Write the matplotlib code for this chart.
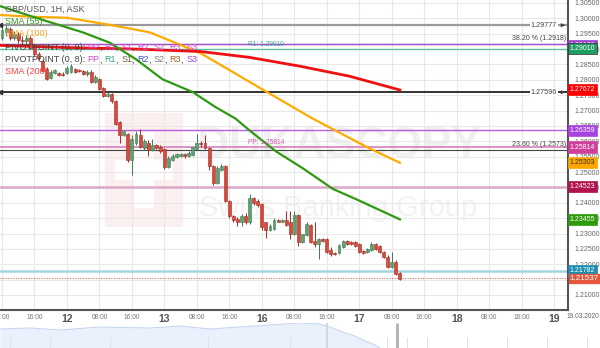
import matplotlib
matplotlib.use("Agg")
import matplotlib.pyplot as plt
import matplotlib.transforms as mtransforms
from matplotlib.patches import Rectangle

plt.rcParams['font.family'] = ['Liberation Sans', 'DejaVu Sans']

# GBP/USD 1H candles, x = hours since 11.03 00:00 (weekend removed)
hours = list(range(8, 107))
opens = [1.2937, 1.2957, 1.2966, 1.2937, 1.2950, 1.2931, 1.2925, 1.2937, 1.2908, 1.2883,
         1.2860, 1.2834, 1.2805, 1.2822, 1.2822, 1.2818, 1.2822, 1.2825, 1.2834, 1.2831,
         1.2828, 1.2818, 1.2825, 1.2793, 1.2802, 1.2773, 1.2748, 1.2754, 1.2731, 1.2664,
         1.2619, 1.2625, 1.2538, 1.2593, 1.2619, 1.2577, 1.2596, 1.2571, 1.2587, 1.2583,
         1.2574, 1.2516, 1.2538, 1.2548, 1.2551, 1.2558, 1.2551, 1.2554, 1.2574, 1.2596,
         1.2593, 1.2577, 1.2519, 1.2464, 1.2506, 1.2519, 1.2406, 1.2358, 1.2348, 1.2336,
         1.2358, 1.2339, 1.2416, 1.2406, 1.2397, 1.2336, 1.2310, 1.2316, 1.2345, 1.2339,
         1.2345, 1.2336, 1.2297, 1.2361, 1.2271, 1.2294, 1.2329, 1.2275, 1.2265, 1.2281,
         1.2281, 1.2246, 1.2236, 1.2236, 1.2255, 1.2275, 1.2271, 1.2271, 1.2265, 1.2242,
         1.2239, 1.2246, 1.2265, 1.2258, 1.2239, 1.2223, 1.2191, 1.2207, 1.2171]
highs = [1.2982, 1.2979, 1.2973, 1.2960, 1.2957, 1.2941, 1.2947, 1.2944, 1.2915, 1.2892,
         1.2867, 1.2841, 1.2831, 1.2834, 1.2825, 1.2825, 1.2844, 1.2851, 1.2838, 1.2834,
         1.2831, 1.2831, 1.2831, 1.2815, 1.2805, 1.2777, 1.2760, 1.2757, 1.2735, 1.2667,
         1.2638, 1.2628, 1.2622, 1.2632, 1.2641, 1.2606, 1.2603, 1.2609, 1.2590, 1.2587,
         1.2577, 1.2551, 1.2558, 1.2561, 1.2561, 1.2561, 1.2567, 1.2583, 1.2625, 1.2600,
         1.2619, 1.2580, 1.2522, 1.2519, 1.2526, 1.2522, 1.2410, 1.2361, 1.2355, 1.2365,
         1.2368, 1.2429, 1.2419, 1.2413, 1.2400, 1.2339, 1.2332, 1.2352, 1.2348, 1.2348,
         1.2374, 1.2374, 1.2374, 1.2365, 1.2300, 1.2336, 1.2332, 1.2336, 1.2284, 1.2284,
         1.2284, 1.2255, 1.2239, 1.2265, 1.2278, 1.2278, 1.2275, 1.2275, 1.2268, 1.2246,
         1.2252, 1.2271, 1.2268, 1.2262, 1.2242, 1.2229, 1.2239, 1.2213, 1.2175]
lows = [1.2931, 1.2944, 1.2928, 1.2931, 1.2921, 1.2915, 1.2918, 1.2899, 1.2876, 1.2863,
        1.2825, 1.2799, 1.2802, 1.2818, 1.2812, 1.2812, 1.2818, 1.2822, 1.2822, 1.2825,
        1.2815, 1.2812, 1.2789, 1.2789, 1.2767, 1.2744, 1.2744, 1.2725, 1.2654, 1.2593,
        1.2616, 1.2532, 1.2490, 1.2587, 1.2577, 1.2571, 1.2551, 1.2567, 1.2574, 1.2561,
        1.2509, 1.2513, 1.2535, 1.2545, 1.2548, 1.2545, 1.2548, 1.2551, 1.2571, 1.2583,
        1.2574, 1.2506, 1.2458, 1.2461, 1.2503, 1.2403, 1.2352, 1.2339, 1.2323, 1.2326,
        1.2332, 1.2332, 1.2394, 1.2387, 1.2313, 1.2284, 1.2307, 1.2313, 1.2336, 1.2336,
        1.2326, 1.2281, 1.2294, 1.2258, 1.2268, 1.2291, 1.2268, 1.2255, 1.2217, 1.2271,
        1.2236, 1.2226, 1.2229, 1.2233, 1.2252, 1.2262, 1.2262, 1.2255, 1.2236, 1.2233,
        1.2236, 1.2242, 1.2246, 1.2236, 1.2220, 1.2188, 1.2188, 1.2165, 1.2149]
closes = [1.2963, 1.2970, 1.2937, 1.2950, 1.2931, 1.2925, 1.2937, 1.2905, 1.2883, 1.2870,
          1.2828, 1.2802, 1.2825, 1.2831, 1.2815, 1.2815, 1.2838, 1.2844, 1.2825, 1.2828,
          1.2818, 1.2825, 1.2793, 1.2809, 1.2770, 1.2748, 1.2754, 1.2731, 1.2657, 1.2619,
          1.2632, 1.2538, 1.2609, 1.2625, 1.2583, 1.2600, 1.2571, 1.2587, 1.2577, 1.2567,
          1.2516, 1.2545, 1.2551, 1.2558, 1.2558, 1.2551, 1.2561, 1.2580, 1.2596, 1.2590,
          1.2577, 1.2519, 1.2464, 1.2513, 1.2519, 1.2406, 1.2358, 1.2345, 1.2336, 1.2358,
          1.2339, 1.2416, 1.2400, 1.2394, 1.2320, 1.2310, 1.2326, 1.2345, 1.2339, 1.2345,
          1.2329, 1.2297, 1.2361, 1.2271, 1.2297, 1.2332, 1.2271, 1.2265, 1.2281, 1.2275,
          1.2239, 1.2233, 1.2233, 1.2262, 1.2275, 1.2265, 1.2265, 1.2258, 1.2239, 1.2236,
          1.2249, 1.2265, 1.2249, 1.2239, 1.2223, 1.2191, 1.2207, 1.2168, 1.2152]

sma55_h = [7.5, 18, 28, 34.5, 41, 47.5, 55, 60.5, 65.5, 69, 75.5, 82, 89.5, 95.5, 106]
sma55_v = [1.3040, 1.2995, 1.2954, 1.2921, 1.2867, 1.2802, 1.2760, 1.2712, 1.2674,
           1.2635, 1.2567, 1.2513, 1.2445, 1.2410, 1.2346]
sma100_h = [7.5, 15.5, 24, 34.5, 41, 44.5, 57, 72, 84.5, 98.5, 106]
sma100_v = [1.3011, 1.3005, 1.3002, 1.2979, 1.2963, 1.2954, 1.2886, 1.2770, 1.2674, 1.2577, 1.2530]
sma200_h = [7.5, 24, 41, 57, 69, 81.5, 93.5, 106]
sma200_v = [1.2912, 1.2905, 1.2900, 1.2892, 1.2873, 1.2844, 1.2812, 1.2767]

# horizontal levels: value, colour, width, style
levels = [(1.29777, '#9a9a9a', 1.6, '-'), (1.29180, '#555555', 0.8, '-'),
          (1.29150, '#a050d0', 1.0, '-'), (1.29010, '#5cc4a4', 1.0, '-'),
          (1.27596, '#333333', 1.4, '-'), (1.26359, '#b45ee0', 1.0, '-'),
          (1.25814, '#d880b8', 1.2, '-'), (1.25730, '#444444', 0.8, '-'),
          (1.24523, '#dba8c8', 1.8, '-'), (1.21782, '#a2d5e0', 1.8, '-'),
          (1.21537, '#e8503a', 0.7, ':')]

# price tags on the right axis: value, text, fill, text colour
tags = [(1.29130, '1.29130', '#a040d0', 'white'), (1.29010, '1.29010', '#1e9e62', 'white'),
        (1.27672, '1.27672', '#ff0000', 'white'), (1.26359, '1.26359', '#a844dd', 'white'),
        (1.25814, '1.25814', '#d0409a', 'white'), (1.25303, '1.25303', '#ffa500', '#333333'),
        (1.24523, '1.24523', '#b0124e', 'white'), (1.23455, '1.23455', '#2f9a0c', 'white'),
        (1.21782, '1.21782', '#1c8fb0', 'white')]
last_price = 1.21537

x_ticks = list(range(8, 145, 8))
day_labels = {24: '12', 48: '13', 72: '16', 96: '17', 120: '18', 144: '19'}

# navigator strip (pixel x, height)
nav_x = [0, 30, 60, 100, 150, 180, 210, 240, 270, 300, 320, 330, 345, 355, 365, 375, 380]
nav_v = [19, 20, 18, 21, 20, 22, 19, 21, 23, 25, 24, 21, 15, 12, 7, 3, 0]
nav_grid = [10, 50, 110, 208, 290, 387, 407, 427, 467, 507, 547, 587]

X0, X1 = 7.51, 147.4
Y0, Y1 = 1.20512, 1.30597

fig = plt.figure(figsize=(6, 3.48), dpi=100)
ax = fig.add_axes([0, 1 - 310 / 348, 568 / 600, 310 / 348])
nav = fig.add_axes([0, 0, 1, 25 / 348])


def hx(px):
    # pixel column -> hour index
    return (px + 30.5) / 4.06


# watermark
ax.add_artist(Rectangle((105 / 600, 121 / 348), 78 / 600, 114 / 348, transform=fig.transFigure,
                        fc='#fcefef', ec='none', zorder=0.2))
ax.add_artist(Rectangle((134 / 600, 140 / 348), 20 / 600, 76 / 348, transform=fig.transFigure,
                        fc='white', ec='none', zorder=0.21))
ax.add_artist(Rectangle((115 / 600, 168 / 348), 58 / 600, 20 / 348, transform=fig.transFigure,
                        fc='white', ec='none', zorder=0.21))
ax.text(197 / 600, 190 / 348, 'DUKASCOPY', transform=fig.transFigure, fontsize=32,
        fontweight='bold', color='#f0f0f0', ha='left', va='baseline', zorder=0.3)
ax.text(199 / 600, 132 / 348, 'Swiss Banking Group', transform=fig.transFigure, fontsize=21,
        color='#f2f2f2', ha='left', va='baseline', zorder=0.3)

# levels
for v, col, lw, ls in levels:
    ax.axhline(v, color=col, lw=lw, ls=ls, zorder=2)

# moving averages
ax.plot(sma100_h, sma100_v, color='#ffaa00', lw=1.6, zorder=3)
ax.plot(sma200_h, sma200_v, color='#ee1111', lw=2.0, zorder=3)
ax.plot(sma55_h, sma55_v, color='#2e9a12', lw=1.6, zorder=3)

# candles
for h, o, hi, lo, c in zip(hours, opens, highs, lows, closes):
    if c >= o:
        body, edge = '#5f9f74', '#3f7a52'
    else:
        body, edge = '#d9493b', '#9e2d22'
    ax.vlines(h, lo, hi, color=edge, lw=0.7, zorder=4)
    ax.add_patch(Rectangle((h - 0.36, min(o, c)), 0.72, max(abs(c - o), 0.00025),
                           fc=body, ec=edge, lw=0.4, zorder=5))

# level labels inside the plot
ax.text(X1 - 0.5, 1.29180 + 0.0004, '38.20 % (1.2918)', fontsize=5, color='#444444',
        ha='right', va='bottom', zorder=6)
ax.text(X1 - 0.5, 1.25730 + 0.0004, '23.60 % (1.2573)', fontsize=5, color='#444444',
        ha='right', va='bottom', zorder=6)
ax.text(hx(248), 1.29010 + 0.0003, 'R1: 1.29010', fontsize=4.8, color='#3aa88a',
        ha='left', va='bottom', zorder=6)
ax.text(hx(248), 1.25814 + 0.0003, 'PP: 1.25814', fontsize=4.8, color='#d060b0',
        ha='left', va='bottom', zorder=6)
for v in [1.29777, 1.27596]:
    ax.text(hx(557), v, f'{v:.5f}', fontsize=5.2, color='#444444', ha='right', va='center',
            bbox=dict(boxstyle='square,pad=0.15', fc='white', ec='none'), zorder=6)
    ax.annotate('', xy=(X1, v), xytext=(hx(559), v),
                arrowprops=dict(arrowstyle='-|>', color='#444444', lw=0.8, mutation_scale=5),
                zorder=6)
    ax.plot([X0], [v], marker='<', color='#333333', ms=3, clip_on=False, zorder=6)

# price tags
trans = mtransforms.blended_transform_factory(ax.transAxes, ax.transData)
for v, s, col, tc in tags:
    ax.text(1.003, v, s, transform=trans, fontsize=5, color=tc, ha='left', va='center',
            bbox=dict(boxstyle='square,pad=0.3', fc=col, ec='#333333' if col == '#1e9e62' else col,
                      lw=0.5), clip_on=False, zorder=10)
ax.text(1.003, last_price, f'{last_price:.5f}', transform=trans, fontsize=5.8, color='white',
        ha='left', va='center', bbox=dict(boxstyle='square,pad=0.12', fc='#e4573d', ec='#e4573d'),
        clip_on=False, zorder=11)

# legend rows in the top left corner
rows = [(9, [('GBP/USD, 1H, ASK', '#555555')]),
        (22, [('SMA (55)', '#3c9a2a')]),
        (34, [('SMA (100)', '#f5a623')]),
        (47, [('PIVOTPOINT (0, 9): ', '#444444'), ('PP', '#d04ad0'), (', ', '#444444'),
              ('R1', '#d04ad0'), (', ', '#444444'), ('S1', '#d04ad0'), (', ', '#444444'),
              ('R2', '#d04ad0'), (', ', '#444444'), ('S2', '#d04ad0'), (', ', '#444444'),
              ('R3', '#d04ad0'), (', ', '#444444'), ('S3', '#d04ad0')]),
        (60, [('PIVOTPOINT (0, 8): ', '#444444'), ('PP', '#c848c8'), (', ', '#444444'),
              ('R1', '#2ea882'), (', ', '#444444'), ('S1', '#6a6a2a'), (', ', '#444444'),
              ('R2', '#3f55c8'), (', ', '#444444'), ('S2', '#808080'), (', ', '#444444'),
              ('R3', '#a8641e'), (', ', '#444444'), ('S3', '#a040d0')]),
        (72, [('SMA (200)', '#ff4040')])]
for ypx, parts in rows:
    t = ax.text(5 / 568, 1 - ypx / 310, parts[0][0], color=parts[0][1], fontsize=6.5,
                transform=ax.transAxes, ha='left', va='center', zorder=7)
    for s, col in parts[1:]:
        t = ax.annotate(s, xy=(1, 0), xycoords=t, color=col, fontsize=6.5,
                        ha='left', va='bottom', zorder=7)

# axes styling
ax.set_xlim(X0, X1)
ax.set_ylim(Y0, Y1)
ax.set_xticks(x_ticks)
ax.set_xticklabels([day_labels.get(h, f'{h % 24:02d}:00') for h in x_ticks])
for h, lab in zip(x_ticks, ax.get_xticklabels()):
    if h in day_labels:
        lab.set_fontsize(7.5)
        lab.set_fontweight('bold')
        lab.set_color('#555555')
    else:
        lab.set_fontsize(4.8)
        lab.set_color('#777777')
yt = [1.21 + 0.005 * i for i in range(20)]
ax.set_yticks(yt)
ax.set_yticklabels([f'{v:.5f}' for v in yt])
ax.yaxis.tick_right()
ax.tick_params(axis='y', length=0, pad=5, labelsize=5, labelcolor='#666666')
ax.tick_params(axis='x', length=0, pad=3)
ax.grid(True, color='#e8e8e8', lw=0.8)
for side in ['left', 'top']:
    ax.spines[side].set_visible(False)
for side in ['right', 'bottom']:
    ax.spines[side].set_color('#555555')
    ax.spines[side].set_linewidth(1.5)
fig.text(583 / 600, 1 - 317 / 348, '19.03.2020', fontsize=4.8, color='#666666',
         ha='center', va='center')

# navigator
nav.set_xlim(0, 600)
nav.set_ylim(0, 25)
nav.axis('off')
nav.fill_between(nav_x, 0, nav_v, color='#eaf1fc', lw=0)
nav.plot(nav_x, nav_v, color='#c7d7f0', lw=0.8)
nav.vlines(nav_grid, 0, 11, color='#e2e2e2', lw=0.7)
nav.vlines([327], 0, 25, color='#d2d2d2', lw=1.2)
nav.vlines([397], 0, 25, color='#b0b0b0', lw=2)

fig.savefig('out.png', dpi=100)
